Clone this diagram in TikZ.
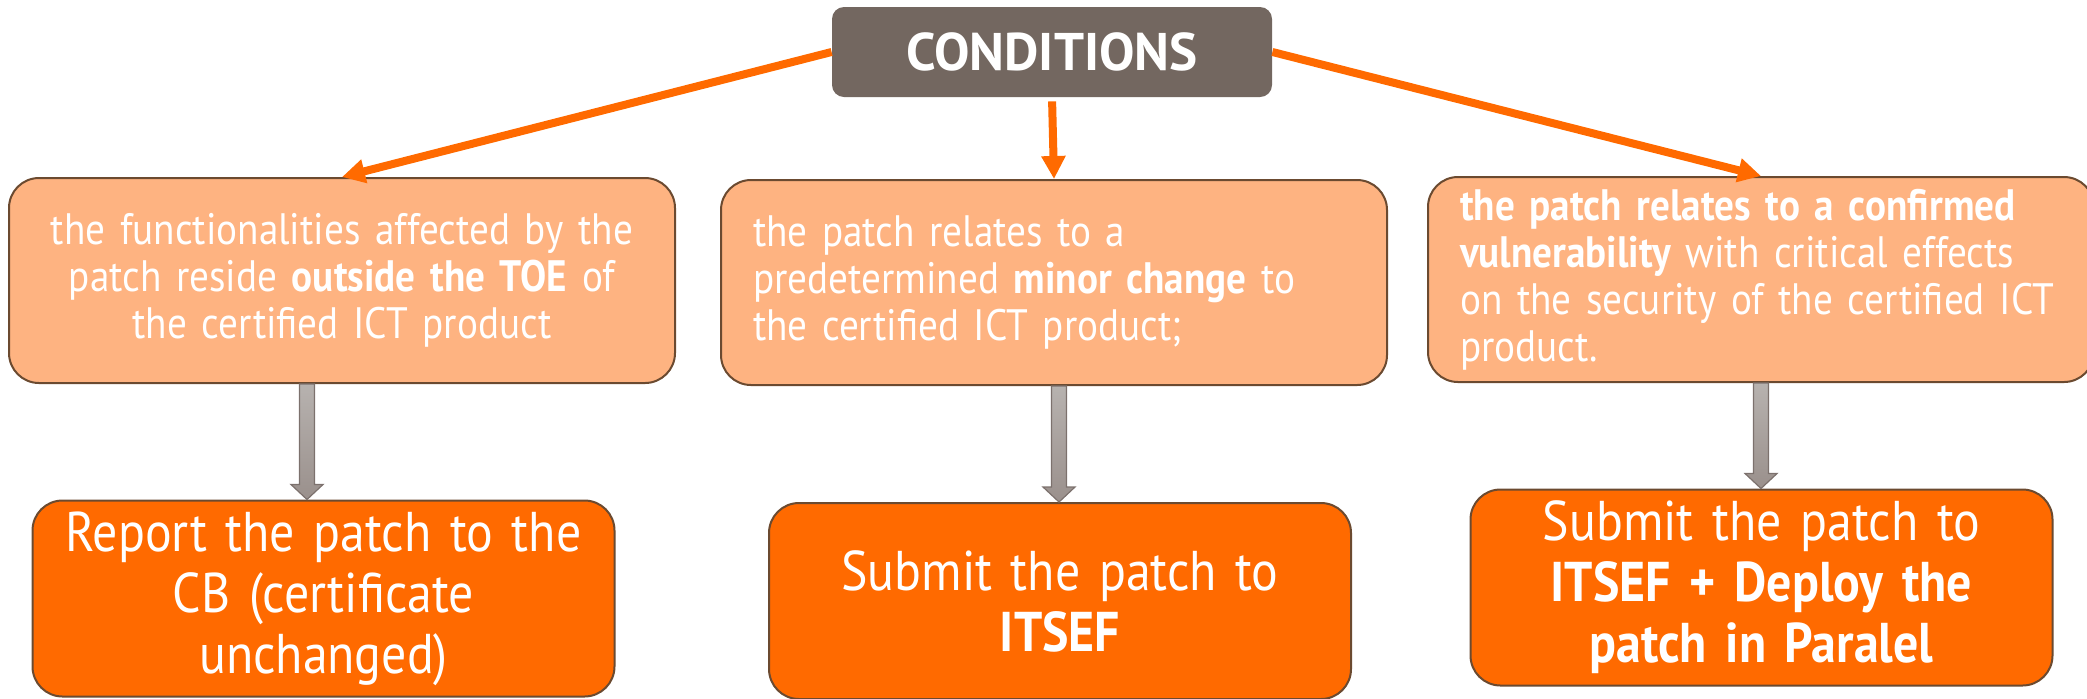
\documentclass[tikz,border=0pt]{standalone}
\usepackage{fontspec}
\setmainfont[FakeStretch=0.89]{PT Sans}
\newfontfamily\headfont{PT Sans}
\usetikzlibrary{arrows.meta,calc}
\definecolor{condgray}{HTML}{736760}
\definecolor{lightor}{HTML}{FEB381}
\definecolor{darkor}{HTML}{FF6A00}
\definecolor{boxedge}{HTML}{6B4A30}
\definecolor{arrowor}{HTML}{FF6A00}
\definecolor{gtop}{HTML}{B7B2AF}
\definecolor{gbot}{HTML}{9A908C}
\definecolor{gedge}{HTML}{7C716D}
\newcommand\grayarr[3]{%
  \path[garrow] let \p1=(#1.south -| #3), \p2=(#2.north -| #3) in
    (\x1-3.75pt,\y1) -- (\x1-3.75pt,\y2+7.5pt) -- (\x1-8pt,\y2+7.5pt) -- (\x1,\y2)
    -- (\x1+8pt,\y2+7.5pt) -- (\x1+3.75pt,\y2+7.5pt) -- (\x1+3.75pt,\y1) -- cycle;}
\begin{document}
\begin{tikzpicture}[x=0.5pt,y=-0.5pt,
  headbox/.style={fill=condgray, rounded corners=6pt, minimum width=220pt, minimum height=45pt,
    text=white, font=\headfont\bfseries\fontsize{26.5}{28}\selectfont},
  condbox/.style={draw=boxedge, line width=1pt, fill=lightor, rounded corners=15pt,
    minimum width=333pt, minimum height=102.5pt, text width=301pt, inner xsep=16pt, inner ysep=0pt,
    text=white, font=\fontsize{22}{23.5}\selectfont},
  resbox/.style={draw=boxedge, line width=1pt, fill=darkor, rounded corners=15pt,
    minimum width=291pt, minimum height=98pt, text width=270pt, inner xsep=10.5pt, inner ysep=0pt,
    align=center, text=white, font=\fontsize{28}{30.5}\selectfont},
  oarrow/.style={draw=arrowor, line width=4pt, -{Triangle[length=11.5pt,width=11.5pt]}},
  garrow/.style={draw=gedge, line width=0.6pt, top color=gtop, bottom color=gbot}]
\useasboundingbox (0,0) rectangle (2087,698);

\node[headbox] (cond) at (1052,52) {CONDITIONS};

\node[condbox, align=center] (lbox) at (342,280.5)
  {the functionalities affected by the\\ patch reside \textbf{outside the TOE} of\\ the certified ICT product};
\node[condbox, align=left] (mbox) at (1054,282.5)
  {the patch relates to a\\ predetermined \textbf{minor change} to\\ the certified ICT product;};
\node[condbox, align=left] (rbox) at (1761,279.5)
  {\textbf{the patch relates to a confirmed}\\ \textbf{vulnerability} with critical effects\\ on the security of the certified ICT\\ product.};

\node[resbox] (lres) at (323.5,598.5) {Report the patch to the\\ CB (certificate\\ unchanged)};
\node[resbox] (mres) at (1060,601) {Submit the patch to\\ \textbf{ITSEF}};
\node[resbox] (rres) at (1761.5,587.5) {Submit the patch to\\ \textbf{ITSEF + Deploy the}\\ \textbf{patch in Paralel}};

\draw[oarrow] (cond.west) -- (lbox.north);
\draw[oarrow, shorten <=2pt] (cond.south) -- (mbox.north);
\draw[oarrow] (cond.east) -- (rbox.north);

\coordinate (lx) at (307,0);
\coordinate (mx) at (1059,0);
\coordinate (rx) at (1761,0);
\grayarr{lbox}{lres}{lx}
\grayarr{mbox}{mres}{mx}
\grayarr{rbox}{rres}{rx}
\end{tikzpicture}
\end{document}
